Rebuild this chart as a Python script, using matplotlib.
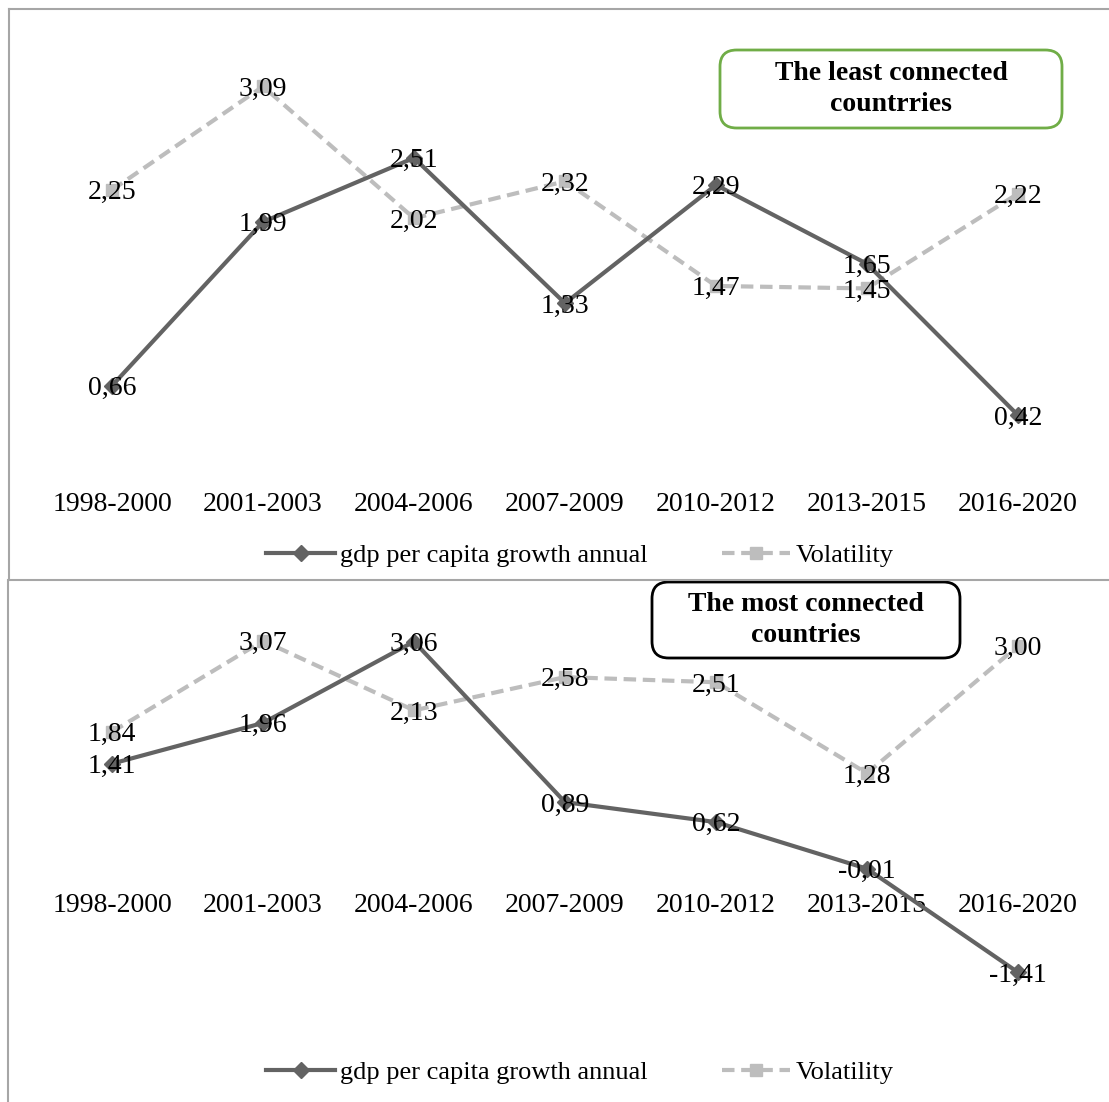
import numpy as np
import matplotlib
matplotlib.use('Agg')
import matplotlib.pyplot as plt
from matplotlib import rcParams
from matplotlib.lines import Line2D
from matplotlib.patches import FancyBboxPatch

rcParams['font.family'] = 'serif'
rcParams['font.serif'] = ['Liberation Serif', 'DejaVu Serif']

periods = ['1998-2000', '2001-2003', '2004-2006', '2007-2009', '2010-2012', '2013-2015', '2016-2020']
gdp_least = [0.66, 1.99, 2.51, 1.33, 2.29, 1.65, 0.42]
vol_least = [2.25, 3.09, 2.02, 2.32, 1.47, 1.45, 2.22]
gdp_most = [1.41, 1.96, 3.06, 0.89, 0.62, -0.01, -1.41]
vol_most = [1.84, 3.07, 2.13, 2.58, 2.51, 1.28, 3.00]

W, H = 1109, 1102
fig = plt.figure(figsize=(W / 100, H / 100), dpi=100)

gdp_col = '#636363'
vol_col = '#bdbdbd'
frame_col = '#a6a6a6'
fs = 20


def px(x0, y0, x1, y1):
    # pixel box (top-left origin) -> figure fraction rect
    return [x0 / W, 1 - y1 / H, (x1 - x0) / W, (y1 - y0) / H]


def draw_panel(rect, gdp, vol, ylim, zero_axis=False):
    ax = fig.add_axes(rect)
    x = np.arange(len(periods))
    ax.plot(x, vol, color=vol_col, linestyle=(0, (3, 1.6)), linewidth=3,
            marker='s', markersize=9, label='Volatility')
    ax.plot(x, gdp, color=gdp_col, linewidth=3, marker='D', markersize=8,
            label='gdp per capita growth annual')
    for xi, v in zip(x, vol):
        ax.annotate(f'{v:.2f}'.replace('.', ','), (xi, v), xytext=(0, -2),
                    textcoords='offset points', ha='center', va='center',
                    fontsize=fs, color='black', zorder=5)
    for xi, v in zip(x, gdp):
        ax.annotate(f'{v:.2f}'.replace('.', ','), (xi, v), xytext=(0, -2),
                    textcoords='offset points', ha='center', va='center',
                    fontsize=fs, color='black', zorder=5)
    ax.set_xlim(-0.5, len(periods) - 0.5)
    ax.set_ylim(*ylim)
    for s in ax.spines.values():
        s.set_visible(False)
    if zero_axis:
        ax.spines['bottom'].set_position(('data', 0))
    ax.set_yticks([])
    ax.set_xticks(x)
    ax.set_xticklabels(periods, fontsize=fs)
    ax.tick_params(axis='x', length=0, pad=18)
    ax.patch.set_alpha(0)
    return ax


ax1 = draw_panel(px(36.5, 36, 1093.5, 467), gdp_least, vol_least, (0, 3.5))
ax2 = draw_panel(px(36.5, 609, 1093.5, 1016), gdp_most, vol_most, (-2, 3.5), zero_axis=True)

handles = [Line2D([], [], color=gdp_col, linewidth=3, marker='D', markersize=8),
           Line2D([], [], color=vol_col, linewidth=3, linestyle=(0, (3, 1.6)),
                  marker='s', markersize=9)]
labels = ['gdp per capita growth annual', 'Volatility']
for ly in [555, 1072]:
    fig.legend(handles, labels, loc='center', bbox_to_anchor=(580 / W, 1 - ly / H),
               ncol=2, frameon=False, fontsize=19, handlelength=2.6,
               handletextpad=0.2, columnspacing=2.8)

# panel frames
for xs, ys in [([9, 9], [9, 580]), ([9, W], [9, 9]), ([9, W], [580, 580]), ([8, 8], [580, H])]:
    fig.add_artist(Line2D([a / W for a in xs], [1 - b / H for b in ys],
                          color=frame_col, linewidth=1.5))

# title boxes
for (x0, y0, x1, y1), txt, ec in [((720, 50, 1062, 128), 'The least connected\ncountrries', '#70ad47'),
                                  ((652, 582, 960, 658), 'The most connected\ncountries', 'black')]:
    box = FancyBboxPatch((x0 / W, 1 - y1 / H), (x1 - x0) / W, (y1 - y0) / H,
                         boxstyle='round,pad=0,rounding_size=0.015',
                         transform=fig.transFigure, facecolor='white',
                         edgecolor=ec, linewidth=2)
    fig.add_artist(box)
    fig.text((x0 + x1) / 2 / W, 1 - (y0 + y1) / 2 / H, txt, ha='center', va='center',
             fontsize=fs, fontweight='bold', linespacing=1.3)

fig.savefig('out.png', dpi=100)
